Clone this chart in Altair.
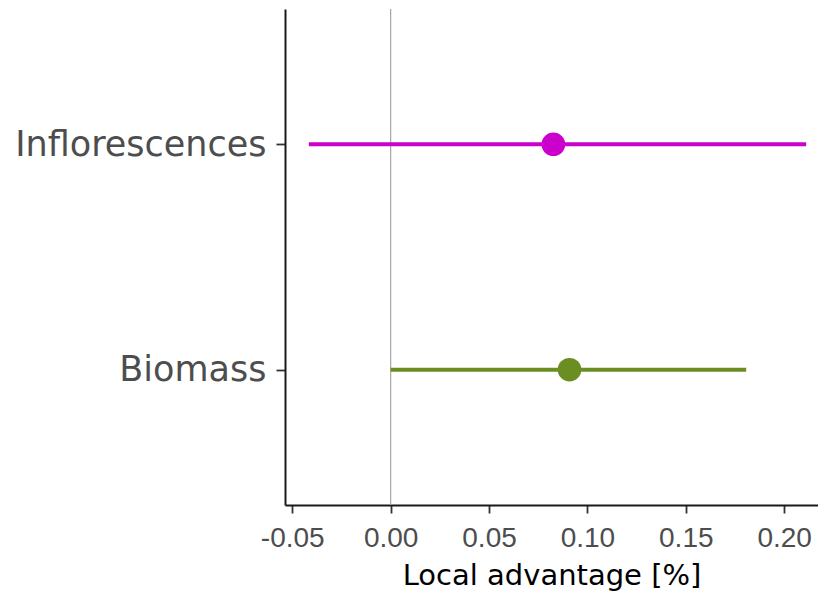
import altair as alt
import pandas as pd

# Data
traits = ["Inflorescences", "Biomass"]
estimates = [0.0827, 0.0909]
lower = [-0.0416, 0.0]
upper = [0.2112, 0.1807]
colors = ["#CC00CC", "#6B8E23"]
reference = [0.0]
tick_values = [-0.05, 0.0, 0.05, 0.10, 0.15, 0.20]

df = pd.DataFrame({"trait": traits, "est": estimates, "lo": lower, "hi": upper})
ref_df = pd.DataFrame({"ref": reference})

x_scale = alt.Scale(domain=[-0.0537, 0.2172], nice=False, zero=False)
y_scale = alt.Scale(type="point", domain=traits, padding=0.6)
color_scale = alt.Scale(domain=traits, range=colors)

x_axis = alt.Axis(
    title="Local advantage [%]",
    values=tick_values,
    labelExpr="replace(format(datum.value, '.2f'), '\u2212', '-')",
    grid=False,
    domainColor="#1A1A1A", domainWidth=2,
    tickColor="#333333", tickWidth=1.8, tickSize=8,
    labelFont="Liberation Sans", labelFontSize=28, labelColor="#4D4D4D",
    labelPadding=11,
    titleFont="DejaVu Sans", titleFontSize=29, titleColor="#000000",
    titleFontWeight="normal", titleBaseline="alphabetic", titleY=79,
)
y_axis = alt.Axis(
    title=None,
    grid=False,
    domainColor="#1A1A1A", domainWidth=2,
    tickColor="#333333", tickWidth=1.8, tickSize=9,
    labelFont="DejaVu Sans", labelFontSize=35, labelColor="#4D4D4D",
    labelPadding=10, labelLimit=0,
)

zero_line = alt.Chart(ref_df).mark_rule(color="#A6A6A6", strokeWidth=1.2).encode(
    x=alt.X("ref:Q", scale=x_scale, axis=x_axis)
)

whiskers = alt.Chart(df).mark_rule(strokeWidth=4).encode(
    x=alt.X("lo:Q", scale=x_scale, axis=x_axis),
    x2="hi:Q",
    y=alt.Y("trait:N", scale=y_scale, axis=y_axis, sort=traits),
    color=alt.Color("trait:N", scale=color_scale, legend=None),
)

points = alt.Chart(df).mark_circle(size=560, opacity=1).encode(
    x=alt.X("est:Q", scale=x_scale, axis=x_axis),
    y=alt.Y("trait:N", scale=y_scale, axis=y_axis, sort=traits),
    color=alt.Color("trait:N", scale=color_scale, legend=None),
)

chart = (zero_line + whiskers + points).properties(
    width=533,
    height=496,
    autosize=alt.AutoSizeParams(type="none"),
    padding={"left": 277, "top": 1, "right": 0, "bottom": 86},
    background="white",
).configure_view(stroke=None)

chart.save("out.html", embed_options={"renderer": "svg", "actions": False})
